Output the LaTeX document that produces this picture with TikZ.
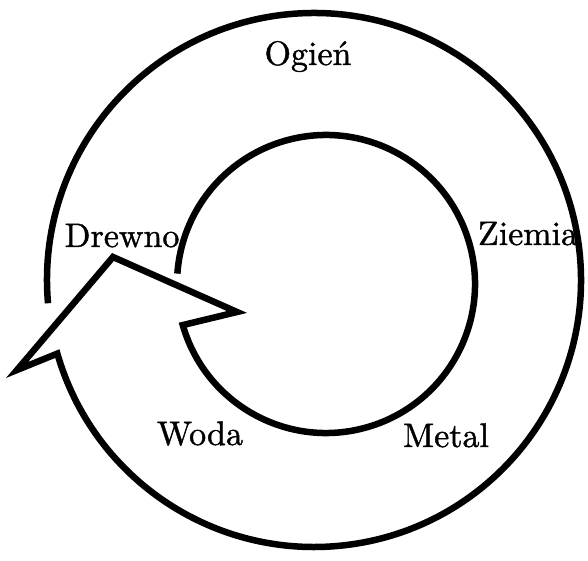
\documentclass[tikz,border=0pt]{standalone}
\usepackage{fontspec}
\usetikzlibrary{calc}
\font\labelfont="[lmroman10-regular.otf]:embolden=1.2;mapping=tex-text" at 34pt

\begin{document}
\begin{tikzpicture}[x=1pt, y=1pt, every node/.style={font=\labelfont}]
    \useasboundingbox (0,0) rectangle (588,560);

    % Elements
    \node[anchor=base] (ogien) at (308,495) {Ogień};
    \node[anchor=base] (ziemia) at (528,315) {Ziemia};
    \node[anchor=base] (metal) at (446,113) {Metal};
    \node[anchor=base] (woda) at (200,115) {Woda};
    \node[anchor=base] (drewno) at (122,313) {Drewno};

    % Ring centres
    \coordinate (outer) at (314,280);
    \coordinate (inner) at (326,276);

    % Arrow head
    \coordinate (wingl) at (17,190);
    \coordinate (tip) at (113,303);
    \coordinate (wingr) at (237,248);

    % Ring arrow
    \draw[line width=6.5pt] ($(outer)+(185:267)$) arc[start angle=185, end angle=-164, radius=267]
        -- (wingl) -- (tip) -- (wingr)
        -- ($(inner)+(196:149)$) arc[start angle=196, end angle=536, radius=149];
\end{tikzpicture}
\end{document}
